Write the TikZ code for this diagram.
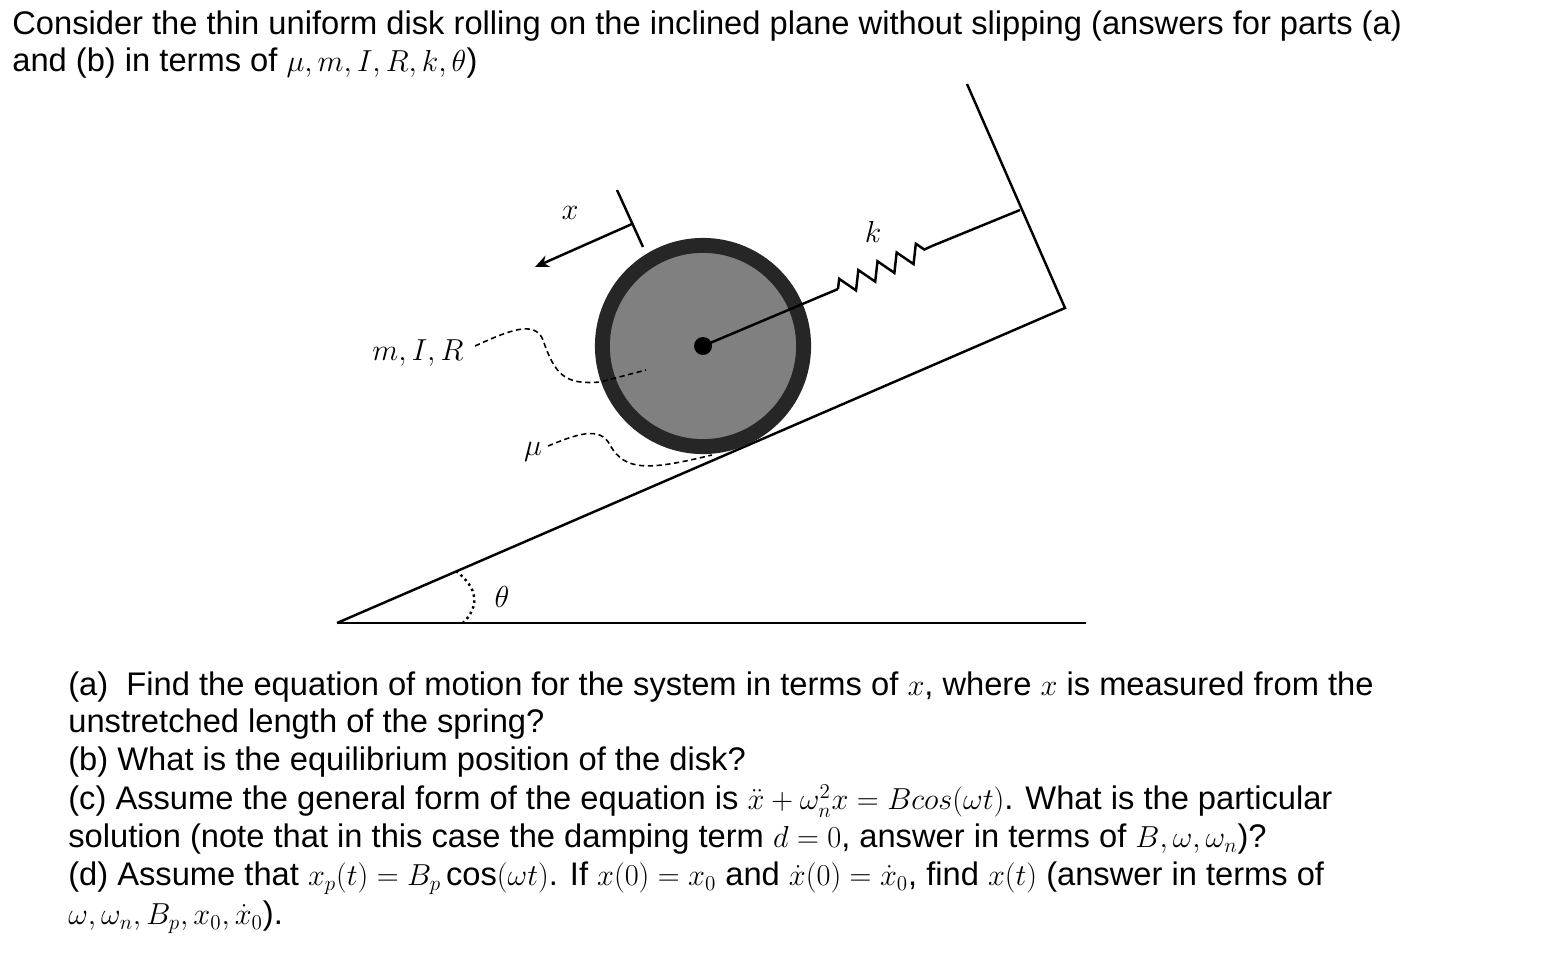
\documentclass[tikz,border=0pt]{standalone}
\usepackage{fontspec}
\setmainfont{Liberation Sans}
\usetikzlibrary{decorations.pathmorphing,arrows.meta}
\begin{document}
\begin{tikzpicture}[x=0.02cm,y=-0.02cm,
  txt/.style={anchor=west,inner sep=0pt,font=\fontsize{18.6}{22}\selectfont},
  lbl/.style={inner sep=0pt,font=\fontsize{18}{20}\selectfont},
  ln/.style={line width=1.4pt},
  lead/.style={dashed,line width=0.9pt,dash pattern=on 3pt off 2pt}]
\useasboundingbox (0,0) rectangle (1544,956);
\node[txt] (t1) at (12,26) {Consider the thin uniform disk rolling on the inclined plane without slipping (answers for parts (a)};
\node[txt] (t2) at (12,63) {and (b) in terms of $\mu,m,I,R,k,\theta$)};
% geometry
\coordinate (A) at (337,623);
\coordinate (B) at (1065,308);
\coordinate (W) at (967,84);
\coordinate (E) at (1086,623);
\draw[ln] (A) -- (B) -- (W);
\draw[ln] (A) -- (E);
\coordinate (C) at (703,346);
\coordinate (S1) at (838,289);
\coordinate (S2) at (932,246);
\coordinate (WA) at (1020,210);
\draw[ln,decorate,decoration={zigzag,segment length=12pt,amplitude=5pt}] (S1) -- (S2);
\draw[ln] (S2) -- (WA);
\node[circle,draw=black!85,line width=8.5pt,fill=black!50,minimum size=202pt*0.02/0.0352778] (disk) at (C) {};
\draw[ln] (C) -- (S1);
\fill (C) circle (9);
% x arrow
\coordinate (X1) at (632,224);
\coordinate (X2) at (535,267);
\draw[ln,-{Stealth[length=8pt,width=7pt]}] (X1) -- (X2);
\draw[ln] (617,190) -- (643,247);
\node[lbl] (xl) at (570,213) {$x$};
\node[lbl] (kl) at (873,232) {$k$};
\node[lbl] (mir) at (418,353) {$m,I,R$};
\node[lbl] (mu) at (533,452) {$\mu$};
\node[lbl] (th) at (502,597) {$\theta$};
\draw[lead] (475,346) .. controls (510,330) and (535,320) .. (543,340) .. controls (555,375) and (565,385) .. (600,382) -- (646,370);
\draw[lead] (548,446) .. controls (575,435) and (600,425) .. (610,445) .. controls (625,472) and (650,470) .. (712,455);
\draw[dotted,line width=1.4pt] (456,571) .. controls (478,588) and (480,606) .. (463,623);
% bottom text
\node[txt] (a1) at (68,687) {(a)\ \ Find the equation of motion for the system in terms of $x$, where $x$ is measured from the};
\node[txt] (a2) at (68,724) {unstretched length of the spring?};
\node[txt] (b1) at (68,762) {(b) What is the equilibrium position of the disk?};
\node[txt] (c1) at (68,801) {(c) Assume the general form of the equation is $\ddot x+\omega_n^2x=B cos(\omega t)$. What is the particular};
\node[txt] (c2) at (68,839) {solution (note that in this case the damping term $d=0$, answer in terms of $B,\omega,\omega_n$)?};
\node[txt] (d1) at (68,878) {(d) Assume that $x_p(t)=B_p\cos(\omega t)$. If $x(0)=x_0$ and $\dot x(0)=\dot x_0$, find $x(t)$ (answer in terms of};
\node[txt] (d2) at (68,917) {$\omega,\omega_n,B_p,x_0,\dot x_0$).};
\end{tikzpicture}
\end{document}
